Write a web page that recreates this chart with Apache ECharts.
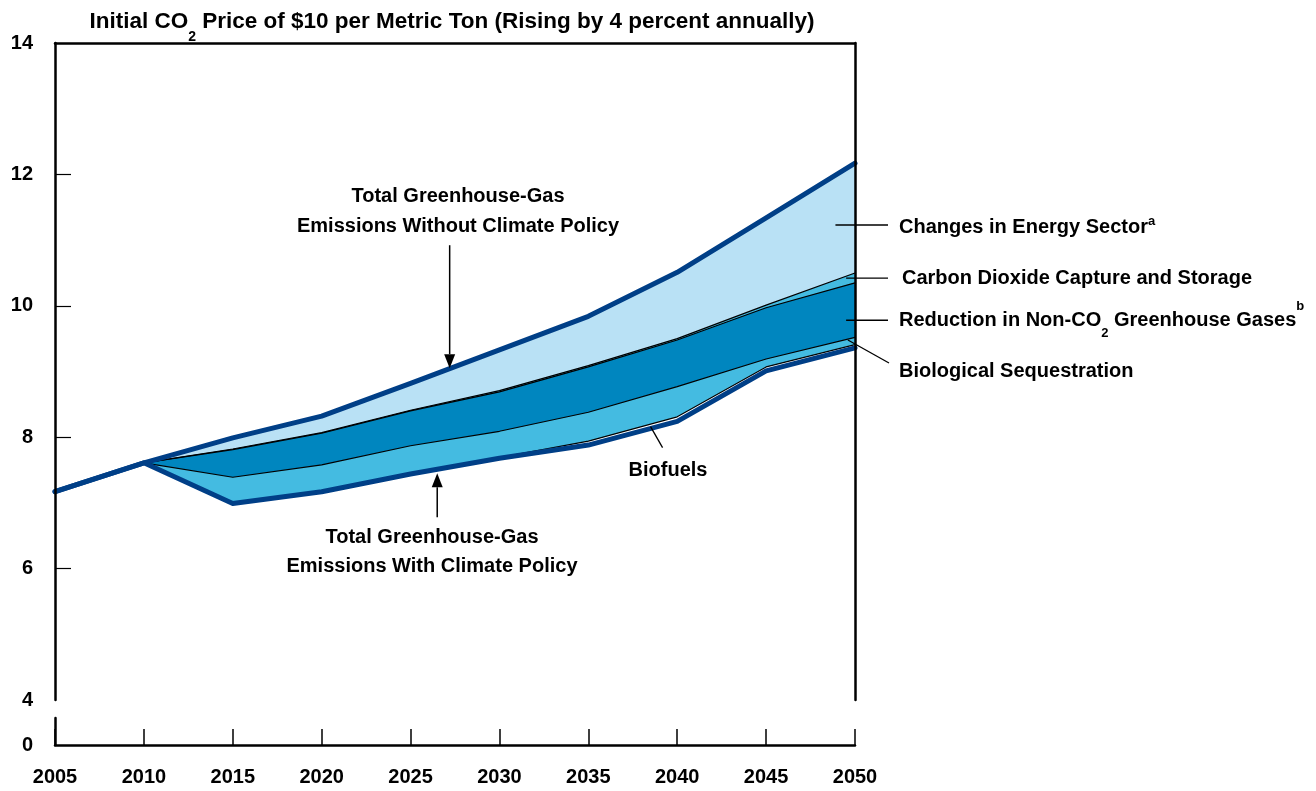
<!DOCTYPE html>
<html><head><meta charset="utf-8">
<script src="https://cdn.jsdelivr.net/npm/echarts@6/dist/echarts.min.js"></script>
<style>html,body{margin:0;padding:0;background:#fff}#c{width:1316px;height:791px}</style>
</head><body><div id="c"></div>
<script>
// ---- data (billions of metric tons CO2e) ----
const years = [2005, 2010, 2015, 2020, 2025, 2030, 2035, 2040, 2045, 2050];
const withoutPolicy = [7.17, 7.61, 7.99, 8.32, 8.82, 9.33, 9.84, 10.51, 11.34, 12.17];
const ccsTop        = [7.17, 7.61, 7.82, 8.07, 8.41, 8.71, 9.09, 9.50, 10.01, 10.50];
const nonCO2Top     = [7.17, 7.61, 7.81, 8.06, 8.40, 8.69, 9.07, 9.48, 9.97, 10.35];
const bioSeqTop     = [7.17, 7.61, 7.39, 7.58, 7.87, 8.09, 8.38, 8.77, 9.19, 9.52];
const biofuelsTop   = [7.17, 7.61, 6.99, 7.17, 7.44, 7.69, 7.94, 8.31, 9.07, 9.41];
const withPolicy    = [7.17, 7.61, 6.99, 7.17, 7.44, 7.68, 7.88, 8.24, 9.01, 9.36];
const yTickValues = [6, 8, 10, 12];
const yLabelValues = [4, 6, 8, 10, 12, 14];

const FONT = 'Liberation Sans';
const NAVY = '#003f87', LIGHT = '#b9e1f5', MID = '#44bbe1', DARK = '#0086bf';
const pairs = arr => years.map((y, i) => [y, arr[i]]);

const layers = [
  { data: withoutPolicy, fill: LIGHT },
  { data: ccsTop, fill: MID },
  { data: nonCO2Top, fill: DARK },
  { data: bioSeqTop, fill: MID },
  { data: biofuelsTop, fill: '#ffffff' },
  { data: withPolicy, fill: '#ffffff' }
];
const series = [];
layers.forEach(l => series.push({
  type: 'line', xAxisIndex: 0, yAxisIndex: 0, data: pairs(l.data), symbol: 'none', silent: true,
  lineStyle: { width: 0, opacity: 0 }, areaStyle: { color: l.fill, opacity: 1, origin: 'start' }
}));
[ccsTop, nonCO2Top, bioSeqTop, biofuelsTop].forEach(d => series.push({
  type: 'line', xAxisIndex: 0, yAxisIndex: 0, data: pairs(d), symbol: 'none', silent: true,
  lineStyle: { width: 1.2, color: '#000' }
}));
[withoutPolicy, withPolicy].forEach(d => series.push({
  type: 'line', xAxisIndex: 0, yAxisIndex: 0, data: pairs(d), symbol: 'none', silent: true,
  lineStyle: { width: 5, color: NAVY, join: 'round', cap: 'round' }
}));

const axisLineStyle = { color: '#000', width: 2.5 };
const option = {
  animation: false,
  backgroundColor: '#fff',
  textStyle: { fontFamily: FONT },
  grid: [
    { left: 55, right: 461, top: 43, bottom: 91 },
    { left: 55, right: 461, top: 718, height: 27 }
  ],
  xAxis: [
    { gridIndex: 0, type: 'value', min: 2005, max: 2050, show: false },
    { gridIndex: 0, type: 'value', min: 2005, max: 2050, position: 'top', z: 10,
      axisLine: { show: true, lineStyle: axisLineStyle }, axisTick: { show: false },
      axisLabel: { show: false }, splitLine: { show: false } },
    { gridIndex: 1, type: 'value', min: 2005, max: 2050, interval: 5, position: 'bottom', z: 10,
      axisLine: { show: true, lineStyle: axisLineStyle },
      axisTick: { show: true, inside: true, length: 16, lineStyle: { color: '#000', width: 1.5 } },
      axisLabel: { show: true, margin: 22, fontSize: 20, fontWeight: 'bold', color: '#000', fontFamily: FONT,
        formatter: v => String(v) },
      splitLine: { show: false } }
  ],
  yAxis: [
    { gridIndex: 0, type: 'value', min: 4, max: 14, interval: 2, z: 10,
      axisLine: { show: true, lineStyle: axisLineStyle },
      axisTick: { show: true, inside: true, length: 16, customValues: yTickValues, lineStyle: { color: '#000', width: 1.2 } },
      axisLabel: { show: true, margin: 22, fontSize: 20, fontWeight: 'bold', color: '#000', fontFamily: FONT, customValues: yLabelValues },
      splitLine: { show: false } },
    { gridIndex: 0, type: 'value', min: 4, max: 14, position: 'right', z: 10,
      axisLine: { show: true, lineStyle: axisLineStyle }, axisTick: { show: false },
      axisLabel: { show: false }, splitLine: { show: false } },
    { gridIndex: 1, type: 'value', min: 0, max: 1, interval: 1, z: 10,
      axisLine: { show: true, lineStyle: axisLineStyle }, axisTick: { show: false },
      axisLabel: { show: true, margin: 22, fontSize: 20, fontWeight: 'bold', color: '#000', fontFamily: FONT, customValues: [0] },
      splitLine: { show: false } }
  ],
  series: series
};

const chart = echarts.init(document.getElementById('c'));
chart.setOption(option);

// ---- annotations ----
const P = (x, y) => chart.convertToPixel({ seriesIndex: 0 }, [x, y]);
const txt = { fontFamily: FONT, fontWeight: 'bold', fontSize: 20, fill: '#000' };
const rich = {
  m: { fontFamily: FONT, fontWeight: 'bold', fontSize: 20, lineHeight: 24, color: '#000' },
  mt: { fontFamily: FONT, fontWeight: 'bold', fontSize: 20, lineHeight: 40, color: '#000' },
  tt: { fontFamily: FONT, fontWeight: 'bold', fontSize: 22.5, lineHeight: 44, color: '#000' },
  tsub: { fontFamily: FONT, fontWeight: 'bold', fontSize: 14, lineHeight: 12, verticalAlign: 'bottom', color: '#000' },
  sub: { fontFamily: FONT, fontWeight: 'bold', fontSize: 13, lineHeight: 12, verticalAlign: 'bottom', color: '#000' },
  sup: { fontFamily: FONT, fontWeight: 'bold', fontSize: 13, lineHeight: 10, verticalAlign: 'top', color: '#000' },
  sup2: { fontFamily: FONT, fontWeight: 'bold', fontSize: 13, lineHeight: 24, verticalAlign: 'top', color: '#000' }
};
const g = [];
function line(x1, y1, x2, y2, w) {
  g.push({ type: 'line', shape: { x1, y1, x2, y2 }, style: { stroke: '#000', lineWidth: w || 1.3 }, z: 100 });
}
function arrow(tip, dir, len) {
  const [x, y] = tip;
  const base = y - dir * 14;
  g.push({ type: 'polygon', shape: { points: [[x, y], [x - 5.5, base], [x + 5.5, base]] }, style: { fill: '#000' }, z: 101 });
  line(x, base, x, y - dir * len, 1.5);
}
function text(x, y, t, align, useRich) {
  const el = { type: 'text', x, y, z: 102, style: Object.assign({ text: t, align: align || 'left', verticalAlign: 'middle' }, txt) };
  if (useRich) { el.style.rich = rich; el.style.text = t; }
  g.push(el);
}

// Title
text(452, 22, '{tt|Initial CO}{tsub|2}{tt| Price of $10 per Metric Ton (Rising by 4 percent annually)}', 'center', true);

// Without policy arrow + label
arrow(P(2027.2, 9.05), 1, 123);
g.push({ type: 'text', x: 458, y: 211, z: 102, style: Object.assign({ text: 'Total Greenhouse-Gas\nEmissions Without Climate Policy', align: 'center', verticalAlign: 'middle', lineHeight: 30 }, txt) });

// With policy arrow + label
arrow(P(2026.5, 7.45), -1, 44);
g.push({ type: 'text', x: 432, y: 552, z: 102, style: Object.assign({ text: 'Total Greenhouse-Gas\nEmissions With Climate Policy', align: 'center', verticalAlign: 'middle', lineHeight: 29 }, txt) });

// Biofuels leader
const bf = P(2038.5, 8.16);
line(bf[0], bf[1], bf[0] + 12, bf[1] + 21);
text(668, 470, 'Biofuels', 'center');

// Right-side leaders
const e = P(2048.9, 11.23); line(e[0], e[1], 888, e[1]);
text(899, 227, '{m|Changes in Energy Sector}{sup|a}', 'left', true);
const c = P(2049.5, 10.42); line(c[0], c[1], 888, c[1]);
text(902, 278, 'Carbon Dioxide Capture and Storage', 'left');
const n = P(2049.5, 9.78); line(n[0], n[1], 888, n[1]);
text(899, 320, '{mt|Reduction in Non-CO}{sub|2}{mt| Greenhouse Gases}{sup2|b}', 'left', true);
const b = P(2049.6, 9.48); line(b[0], b[1], 889, 363);
text(899, 371, 'Biological Sequestration', 'left');

chart.setOption({ graphic: { elements: g } });
</script>
</body></html>
